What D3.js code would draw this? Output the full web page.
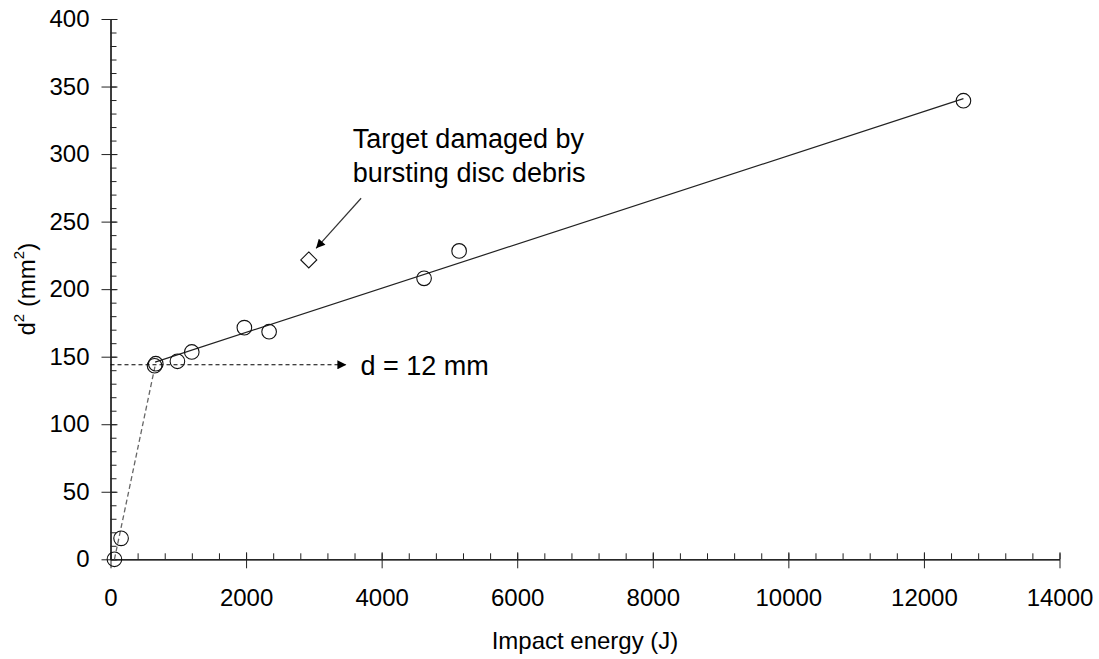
<!DOCTYPE html>
<html>
<head>
<meta charset="utf-8">
<script src="https://cdn.jsdelivr.net/npm/d3@7"></script>
<style>
    body { margin: 0; background: #fff; }
    text { font-family: "Liberation Sans", Arial, sans-serif; fill: #000; }
</style>
</head>
<body>
<div id="chart"></div>
<script>
// measured points (impact energy J, d^2 mm^2)
var energy = [58, 156, 650, 668, 987, 1199, 1975, 2340, 4626, 5143, 12583];
var dSquared = [0, 15.5, 143.3, 144.8, 146.6, 153.5, 171.5, 168.5, 208.0, 228.3, 339.5];
// outlier point, target damaged by debris
var outlierEnergy = [2925];
var outlierD2 = [221.6];
// linear fit above the threshold
var fitEnergy = [658, 12583];
var fitD2 = [146, 341];
// grey dashed line below the threshold
var lowEnergy = [58, 658];
var lowD2 = [0, 143.3];
// d = 12 mm marker
var thresholdD2 = 144;
var thresholdEnd = 3480;
// annotation arrow (from, to)
var noteArrowEnergy = [3697, 3033];
var noteArrowD2 = [267.3, 230.2];
var noteLines = ["Target damaged by", "bursting disc debris"];
var thresholdLabel = "d = 12 mm";
// tick values
var xTicks = [0, 2000, 4000, 6000, 8000, 10000, 12000, 14000];
var yTicks = [0, 50, 100, 150, 200, 250, 300, 350, 400];

(function(){
    var svg, x, y;

    var Chart = {
        dim: { w: 1099, h: 659, left: 110.5, right: 1059.5, top: 19, bottom: 559.3 },
        init: function() {
            svg = d3.select("#chart").append("svg")
                .attr("width", this.dim.w)
                .attr("height", this.dim.h);
            x = d3.scaleLinear().domain([0, 14000]).range([this.dim.left, this.dim.right]);
            y = d3.scaleLinear().domain([0, 400]).range([this.dim.bottom, this.dim.top]);
            svg.append("defs").append("marker")
                .attr("id", "head")
                .attr("viewBox", "0 0 10 10")
                .attr("refX", 10).attr("refY", 5)
                .attr("markerWidth", 11).attr("markerHeight", 9)
                .attr("markerUnits", "userSpaceOnUse")
                .attr("orient", "auto")
                .append("path").attr("d", "M0,0 L10,5 L0,10 z").attr("fill", "#000");
            this.axes();
            this.lines();
            this.points();
            this.notes();
        },
        axes: function() {
            var d = this.dim;
            // major ticks + labels, outside
            svg.append("g").attr("transform", "translate(" + d.left + ",0)")
                .call(d3.axisLeft(y).tickValues(yTicks).tickSize(9).tickPadding(12).tickSizeOuter(0));
            // inside ticks (every 10)
            svg.append("g").attr("transform", "translate(" + d.left + ",0)")
                .call(d3.axisRight(y).tickValues(d3.range(0, 401, 10)).tickSize(6).tickSizeOuter(0).tickFormat(""));
            svg.append("g").attr("transform", "translate(" + d.left + ",0)")
                .call(d3.axisRight(y).tickValues(yTicks).tickSize(7).tickSizeOuter(0).tickFormat(""));

            svg.append("g").attr("transform", "translate(0," + d.bottom + ")")
                .call(d3.axisBottom(x).tickValues(xTicks).tickFormat(d3.format("d"))
                    .tickSize(9).tickPadding(21).tickSizeOuter(0));
            svg.append("g").attr("transform", "translate(0," + d.bottom + ")")
                .call(d3.axisTop(x).tickValues(d3.range(0, 14001, 400)).tickSize(6).tickSizeOuter(0).tickFormat(""));
            svg.append("g").attr("transform", "translate(0," + d.bottom + ")")
                .call(d3.axisTop(x).tickValues(xTicks).tickSize(7).tickSizeOuter(0).tickFormat(""));

            svg.selectAll(".domain, .tick line").attr("stroke", "#222");
            svg.selectAll(".tick text").attr("font-size", "24px").attr("fill", "#000")
                .attr("font-family", "Liberation Sans, Arial, sans-serif");

            // axis titles
            svg.append("text")
                .attr("x", (d.left + d.right) / 2).attr("y", 649)
                .attr("text-anchor", "middle").attr("font-size", "24px")
                .text("Impact energy (J)");
            var yt = svg.append("text")
                .attr("transform", "translate(35," + ((d.top + d.bottom) / 2) + ") rotate(-90)")
                .attr("text-anchor", "middle").attr("font-size", "24px");
            yt.append("tspan").text("d");
            yt.append("tspan").attr("font-size", "15px").attr("dy", "-11").text("2");
            yt.append("tspan").attr("dy", "11").text(" (mm");
            yt.append("tspan").attr("font-size", "15px").attr("dy", "-11").text("2");
            yt.append("tspan").attr("dy", "11").text(")");
        },
        lines: function() {
            var line = d3.line().x(function(p){ return x(p[0]); }).y(function(p){ return y(p[1]); });
            svg.append("path")
                .datum(d3.zip(lowEnergy, lowD2))
                .attr("d", line).attr("fill", "none")
                .attr("stroke", "#666").attr("stroke-width", 1.3).attr("stroke-dasharray", "5,3");
            svg.append("path")
                .datum(d3.zip(fitEnergy, fitD2))
                .attr("d", line).attr("fill", "none")
                .attr("stroke", "#222").attr("stroke-width", 1.2);
            svg.append("path")
                .datum([[0, thresholdD2], [thresholdEnd, thresholdD2]])
                .attr("d", line).attr("fill", "none")
                .attr("stroke", "#000").attr("stroke-width", 1.1).attr("stroke-dasharray", "4,3")
                .attr("marker-end", "url(#head)");
        },
        points: function() {
            svg.selectAll("circle.pt")
                .data(d3.zip(energy, dSquared))
                .enter().append("circle")
                .attr("class", "pt")
                .attr("cx", function(p){ return x(p[0]); })
                .attr("cy", function(p){ return y(p[1]); })
                .attr("r", 7.3)
                .attr("fill", "none").attr("stroke", "#111").attr("stroke-width", 1.1);
            svg.selectAll("path.dia")
                .data(d3.zip(outlierEnergy, outlierD2))
                .enter().append("path")
                .attr("class", "dia")
                .attr("transform", function(p){ return "translate(" + x(p[0]) + "," + y(p[1]) + ")"; })
                .attr("d", "M0,-8 L8,0 L0,8 L-8,0 Z")
                .attr("fill", "none").attr("stroke", "#111").attr("stroke-width", 1.1);
        },
        notes: function() {
            svg.append("line")
                .attr("x1", x(noteArrowEnergy[0])).attr("y1", y(noteArrowD2[0]))
                .attr("x2", x(noteArrowEnergy[1])).attr("y2", y(noteArrowD2[1]))
                .attr("stroke", "#333").attr("stroke-width", 1.2)
                .attr("marker-end", "url(#head)");
            svg.selectAll("text.note")
                .data(noteLines)
                .enter().append("text")
                .attr("class", "note")
                .attr("x", x(3575))
                .attr("y", function(t, i){ return y(304.3) + i * 33.4; })
                .attr("font-size", "27px")
                .text(function(t){ return t; });
            svg.append("text")
                .attr("x", x(thresholdEnd) + 14)
                .attr("y", y(thresholdD2) + 10)
                .attr("font-size", "27px")
                .text(thresholdLabel);
        }
    };

    window.addEventListener("load", function(){ Chart.init(); }, false);
})();
</script>
</body>
</html>
